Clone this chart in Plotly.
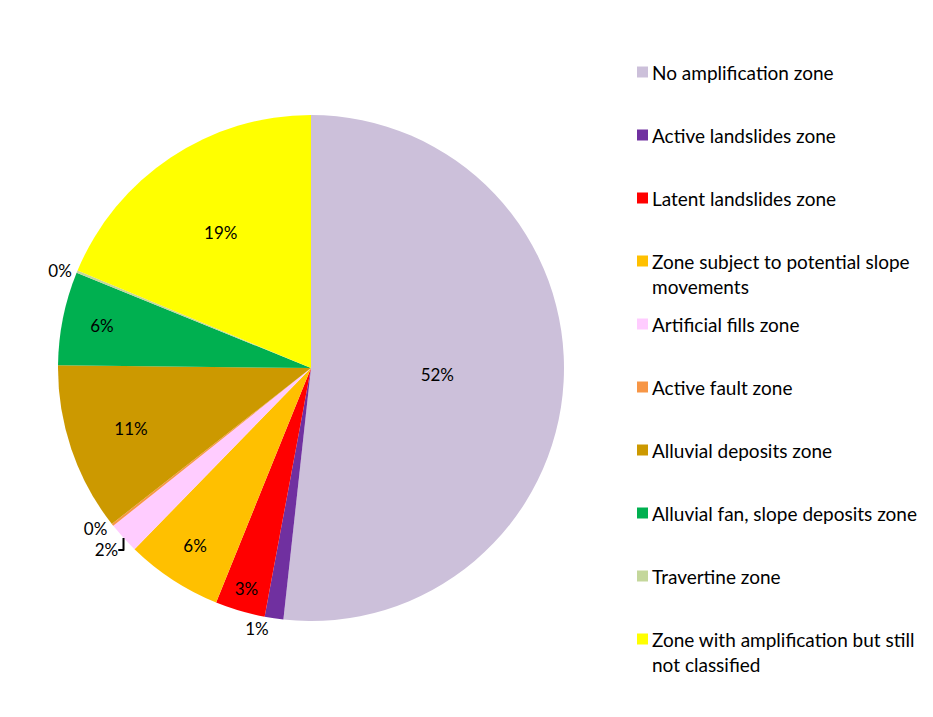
import plotly.graph_objects as go

labels = ["No amplification zone", "Active landslides zone", "Latent landslides zone",
          "Zone subject to potential slope<br>movements", "Artificial fills zone",
          "Active fault zone", "Alluvial deposits zone", "Alluvial fan, slope deposits zone",
          "Travertine zone", "Zone with amplification but still<br>not classified"]
values = [52.0, 1.2, 3.2, 6.2, 2.0, 0.15, 10.8, 6.0, 0.15, 18.8]
texts = ["52%", "1%", "3%", "6%", "2%", "0%", "11%", "6%", "0%", "19%"]
colors = ["#CCC0DA", "#7030A0", "#FF0000", "#FFC000", "#FFCCFF",
          "#F79646", "#CC9900", "#00B050", "#C4D79B", "#FFFF00"]
positions = ["inside", "outside", "inside", "inside", "outside",
             "outside", "inside", "inside", "outside", "inside"]

W, H = 933, 717
off = 8  # browser page margin
def px(x): return (x - off) / W
def py(y): return 1 - (y - off) / H

fig = go.Figure(go.Pie(
    labels=labels, values=values, text=texts, textinfo="text",
    textposition=positions, insidetextorientation="horizontal",
    marker=dict(colors=colors), sort=False, direction="clockwise", rotation=0,
    domain=dict(x=[px(58), px(564)], y=[py(621), py(115)]), showlegend=False,
    textfont=dict(family="Lato", size=17, color="#000000"),
))

shapes, annos = [], []
top = 72
for i, (lab, col) in enumerate(zip(labels, colors)):
    yc = top + i * 63
    shapes.append(dict(type="rect", xref="paper", yref="paper",
                       x0=px(637), x1=px(648), y0=py(yc + 5.5), y1=py(yc - 5.5),
                       fillcolor=col, line=dict(width=0)))
    annos.append(dict(x=px(650), y=py(yc - 13), xref="paper", yref="paper",
                      xanchor="left", yanchor="top", align="left", showarrow=False,
                      text=lab, font=dict(family="Lato", size=19, color="#000000")))

fig.update_layout(width=W, height=H, margin=dict(l=0, r=0, t=0, b=0),
                  paper_bgcolor="white", plot_bgcolor="white",
                  shapes=shapes, annotations=annos)
fig.write_html("out.html")
